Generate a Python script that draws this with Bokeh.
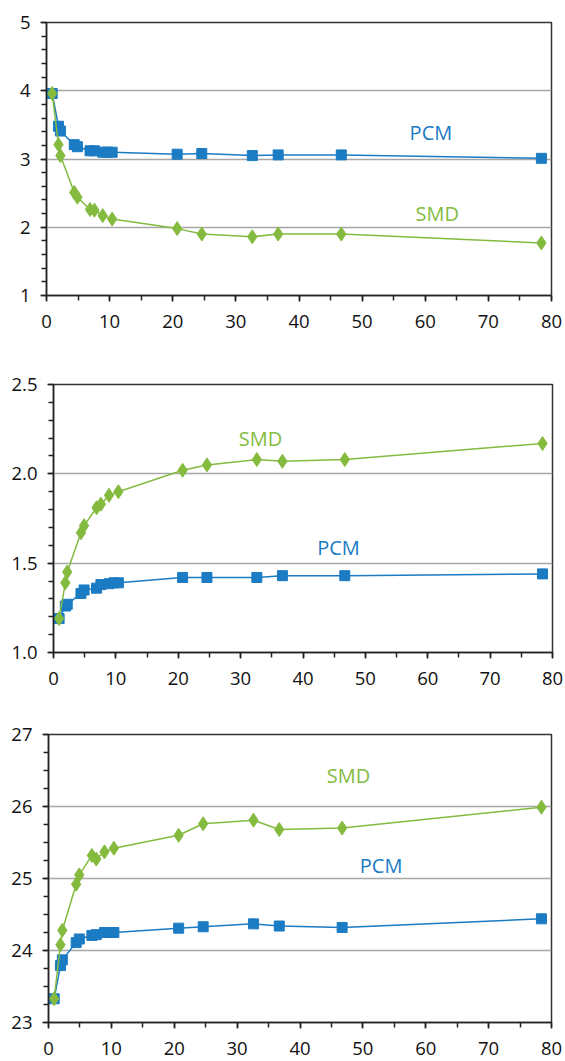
from bokeh.plotting import figure
from bokeh.layouts import column, row
from bokeh.models import Range1d, SingleIntervalTicker, NumeralTickFormatter
from bokeh.core.properties import value
from bokeh.embed import file_html
from bokeh.resources import INLINE

# ---- data ----
x_pcm = [0.9, 1.9, 2.2, 4.4, 4.9, 6.9, 7.6, 8.9, 9.7, 10.4, 20.7, 24.6, 32.6, 36.7, 46.7, 78.4]
x_smd = [0.9, 1.9, 2.2, 4.4, 4.9, 6.9, 7.6, 8.9, 10.4, 20.7, 24.6, 32.6, 36.7, 46.7, 78.4]

p1_pcm = [3.96, 3.48, 3.41, 3.21, 3.18, 3.12, 3.12, 3.10, 3.10, 3.10, 3.07, 3.08, 3.05, 3.06, 3.06, 3.01]
p1_smd = [3.96, 3.21, 3.05, 2.51, 2.44, 2.26, 2.25, 2.17, 2.12, 1.98, 1.90, 1.86, 1.90, 1.90, 1.77]

p2_pcm = [1.19, 1.26, 1.27, 1.33, 1.35, 1.36, 1.38, 1.385, 1.39, 1.39, 1.42, 1.42, 1.42, 1.43, 1.43, 1.44]
p2_smd = [1.19, 1.39, 1.45, 1.67, 1.71, 1.81, 1.83, 1.88, 1.90, 2.02, 2.05, 2.08, 2.07, 2.08, 2.17]

p3_pcm = [23.33, 23.79, 23.87, 24.11, 24.16, 24.21, 24.22, 24.25, 24.25, 24.25, 24.31, 24.33, 24.37, 24.34, 24.32, 24.44]
p3_smd = [23.33, 24.08, 24.28, 24.92, 25.05, 25.32, 25.27, 25.37, 25.42, 25.60, 25.76, 25.81, 25.68, 25.70, 25.99]

x_ticks_interval = 10
series_names = ["PCM", "SMD"]

BLUE = "#1b7bc3"
GREEN = "#84bb3f"
FONT = "Open Sans"


def panel(fw, fh, border_top, border_bottom, border_left, yr, yint, yminor, yfmt,
          pcm, smd, pcm_lbl, smd_lbl):
    p = figure(frame_width=fw, frame_height=fh, output_backend="svg", toolbar_location=None,
               x_range=Range1d(0, 80), y_range=Range1d(*yr),
               min_border_top=border_top, min_border_bottom=border_bottom,
               min_border_left=border_left, min_border_right=565 - fw - border_left)
    p.outline_line_color = "#333333"
    p.outline_line_width = 1.5
    p.xgrid.visible = False
    p.ygrid.grid_line_color = "#a6a6a6"
    p.ygrid.grid_line_width = 1.5
    p.yaxis.ticker = SingleIntervalTicker(interval=yint, num_minor_ticks=yminor)
    p.ygrid.ticker = p.yaxis.ticker
    p.xaxis.ticker = SingleIntervalTicker(interval=x_ticks_interval, num_minor_ticks=2)
    p.yaxis.formatter = NumeralTickFormatter(format=yfmt)
    for ax in (p.xaxis[0], p.yaxis[0]):
        ax.axis_line_color = "#222222"
        ax.axis_line_width = 1.5
        ax.major_tick_line_color = "#222222"
        ax.minor_tick_line_color = "#222222"
        ax.major_tick_line_width = 1.5
        ax.minor_tick_line_width = 1.5
        ax.major_tick_in = 0
        ax.minor_tick_in = 0
        ax.major_tick_out = 6
        ax.minor_tick_out = 5
        ax.major_label_text_font = FONT
        ax.major_label_text_font_size = "18.5px"
        ax.major_label_text_color = "#111111"
    p.xaxis.major_label_standoff = 13
    p.yaxis.major_label_standoff = 10

    p.line(x_pcm, pcm, color=BLUE, line_width=1.5)
    p.scatter(x_pcm, pcm, marker="square", size=10, fill_color=BLUE, line_color=BLUE)
    p.line(x_smd, smd, color=GREEN, line_width=1.5)
    p.scatter(x_smd, smd, marker="diamond", size=14, fill_color=GREEN, line_color=GREEN)

    p.text(x=[pcm_lbl[0]], y=[pcm_lbl[1]], text=[series_names[0]], text_color=BLUE,
           text_font=value(FONT), text_font_size="20px", text_align="center",
           text_baseline="middle")
    p.text(x=[smd_lbl[0]], y=[smd_lbl[1]], text=[series_names[1]], text_color=GREEN,
           text_font=value(FONT), text_font_size="20px", text_align="center",
           text_baseline="middle")
    return p


f1 = panel(505, 273, 22, 60, 46, (1, 5), 1, 5, "0", p1_pcm, p1_smd, (60.9, 3.39), (61.9, 2.20))
f2 = panel(499, 268, 29, 48, 53, (1.0, 2.5), 0.5, 5, "0.0", p2_pcm, p2_smd, (45.7, 1.59), (33.2, 2.20))
f3 = panel(503, 288, 34, 39, 48, (23, 27), 1, 4, "0", p3_pcm, p3_smd, (52.9, 25.18), (47.7, 26.43))

layout = column(row(f1), row(f2), row(f3), spacing=0)
open("out.html", "w").write(file_html(layout, INLINE))
